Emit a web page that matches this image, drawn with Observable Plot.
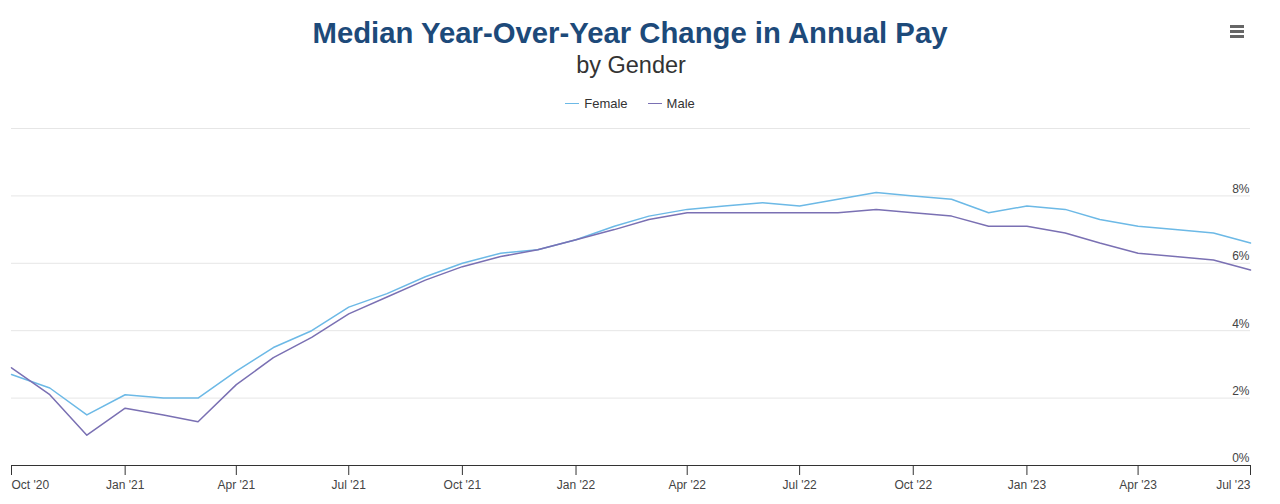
<!DOCTYPE html>
<html>
<head>
<meta charset="utf-8">
<script src="https://cdn.jsdelivr.net/npm/d3@7"></script>
<script src="https://cdn.jsdelivr.net/npm/@observablehq/plot@0.6"></script>
<style>
  body { margin: 0; background: #fff; font-family: "Liberation Sans", Arial, sans-serif; }
  #wrap { position: relative; width: 1280px; height: 504px; overflow: hidden; }
  #title { position: absolute; left: 0; width: 1260px; top: 16px; text-align: center; font-size: 29.3px; font-weight: bold; color: #1d4a7a; }
  #subtitle { position: absolute; left: 0; width: 1262px; top: 52px; text-align: center; font-size: 23.5px; color: #333; }
  #legend { position: absolute; left: 0; width: 1260px; top: 96px; text-align: center; font-size: 13px; color: #333; }
  .li { display: inline-block; margin: 0 10px; }
  .sw { display: inline-block; width: 14px; height: 0; border-top: 1.5px solid; vertical-align: middle; margin-right: 5px; position: relative; top: -1px; }
  #menu { position: absolute; left: 1230px; top: 25px; width: 14px; }
  #menu div { height: 3px; background: #666; margin-bottom: 2px; }
  #chart { position: absolute; left: 0; top: 118px; }
</style>
</head>
<body>
<div id="wrap">
  <div id="title">Median Year-Over-Year Change in Annual Pay</div>
  <div id="subtitle">by Gender</div>
  <div id="legend"></div>
  <div id="menu"><div></div><div></div><div></div></div>
  <div id="chart"></div>
</div>
<script>
const months = ["2020-10","2020-11","2020-12","2021-01","2021-02","2021-03","2021-04","2021-05","2021-06","2021-07","2021-08","2021-09","2021-10","2021-11","2021-12","2022-01","2022-02","2022-03","2022-04","2022-05","2022-06","2022-07","2022-08","2022-09","2022-10","2022-11","2022-12","2023-01","2023-02","2023-03","2023-04","2023-05","2023-06","2023-07"];
const female = [2.7,2.3,1.5,2.1,2.0,2.0,2.8,3.5,4.0,4.7,5.1,5.6,6.0,6.3,6.4,6.7,7.1,7.4,7.6,7.7,7.8,7.7,7.9,8.1,8.0,7.9,7.5,7.7,7.6,7.3,7.1,7.0,6.9,6.6];
const male = [2.9,2.1,0.9,1.7,1.5,1.3,2.4,3.2,3.8,4.5,5.0,5.5,5.9,6.2,6.4,6.7,7.0,7.3,7.5,7.5,7.5,7.5,7.5,7.6,7.5,7.4,7.1,7.1,6.9,6.6,6.3,6.2,6.1,5.8];
const seriesNames = ["Female", "Male"];
const seriesColors = ["#6cb9e6", "#7a70b3"];
const yTicks = [0, 2, 4, 6, 8];
const yGrid = [2, 4, 6, 8, 10];
const xTickMonths = ["2020-10","2021-01","2021-04","2021-07","2021-10","2022-01","2022-04","2022-07","2022-10","2023-01","2023-04","2023-07"];

const parse = d3.utcParse("%Y-%m");
const data = [];
months.forEach((m, i) => {
  data.push({date: parse(m), value: female[i], series: "Female"});
  data.push({date: parse(m), value: male[i], series: "Male"});
});
const xTicks = xTickMonths.map(parse);
const fmt = d3.utcFormat("%b '%y");
const first = xTicks[0], last = xTicks[xTicks.length - 1];
const middle = xTicks.slice(1, -1);

// legend
const leg = document.getElementById("legend");
seriesNames.forEach((n, i) => {
  const s = document.createElement("span");
  s.className = "li";
  s.innerHTML = `<span class="sw" style="border-color:${seriesColors[i]}"></span>${n}`;
  leg.appendChild(s);
});

const chart = Plot.plot({
  width: 1280,
  height: 386,
  marginLeft: 11,
  marginRight: 30,
  marginTop: 10,
  marginBottom: 39,
  style: {fontFamily: '"Liberation Sans", Arial, sans-serif', fontSize: "12px", color: "#333"},
  x: {type: "utc", domain: [parse(months[0]), parse(months[months.length - 1])]},
  y: {domain: [0, 10]},
  color: {domain: seriesNames, range: seriesColors},
  marks: [
    Plot.gridY(yGrid, {stroke: "#e6e6e6", strokeOpacity: 1}),
    Plot.axisY({ticks: yTicks, anchor: "right", tickSize: 0, tickPadding: 0, dx: -1, dy: -7, textAnchor: "end", tickFormat: d => d + "%", label: null, fill: "#444"}),
    Plot.ruleY([0], {stroke: "#333"}),
    Plot.axisX({ticks: xTicks, tickSize: 10, tickFormat: () => "", label: null, stroke: "#333"}),
    Plot.axisX({ticks: middle, tickSize: 0, tickPadding: 15, tickFormat: fmt, label: null, fill: "#444"}),
    Plot.axisX({ticks: [first], tickSize: 0, tickPadding: 15, tickFormat: fmt, label: null, textAnchor: "start", dx: 0, fill: "#444"}),
    Plot.axisX({ticks: [last], tickSize: 0, tickPadding: 15, tickFormat: fmt, label: null, textAnchor: "end", dx: 0, fill: "#444"}),
    Plot.line(data, {x: "date", y: "value", z: "series", stroke: "series", strokeWidth: 1.5})
  ]
});
document.getElementById("chart").appendChild(chart);
</script>
</body>
</html>
